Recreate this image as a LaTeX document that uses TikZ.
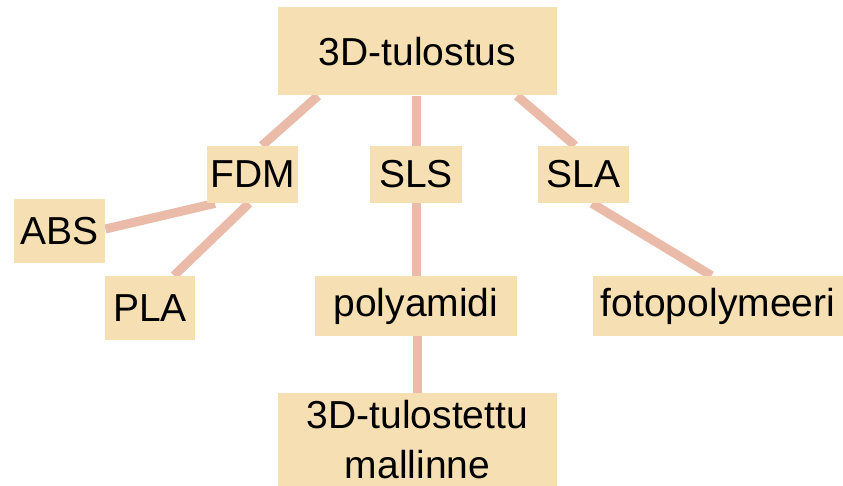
\documentclass[tikz,border=0pt]{standalone}
\usepackage{fontspec}
\setmainfont{Liberation Sans}
\usetikzlibrary{backgrounds}
\definecolor{boxfill}{HTML}{F6DFB2}
\definecolor{linkcol}{HTML}{EABBA8}
\tikzset{
  box/.style={fill=boxfill, inner sep=0pt, align=center,
    font=\fontsize{19.5}{25}\selectfont},
  link/.style={draw=linkcol, line width=4.5pt}
}
\begin{document}
\begin{tikzpicture}[x=0.5pt, y=-0.5pt]
        \useasboundingbox (0,0) rectangle (843,486);
        \node[box, minimum width=139.5pt, minimum height=44pt]   (print)  at (417.5, 51.5) {3D-tulostus};
        \node[box, minimum width=45.5pt, minimum height=28.5pt]  (fdm)    at (252.5,174.5) {FDM};
        \node[box, minimum width=46pt, minimum height=28.5pt]    (sls)    at (416,  174.5) {SLS};
        \node[box, minimum width=45.5pt, minimum height=28.5pt]  (sla)    at (583.5,174.5) {SLA};
        \node[box, minimum width=45.5pt, minimum height=32pt]    (abs)    at (59.5, 231)   {ABS};
        \node[box, minimum width=45pt, minimum height=32pt]      (pla)    at (150,  308)   {PLA};
        \node[box, minimum width=101pt, minimum height=30pt]     (pa)     at (416,  306)   {polyamidi};
        \node[box, minimum width=125pt, minimum height=30pt]     (photo)  at (718,  306)   {fotopolymeeri};
        \node[box, minimum width=139.5pt, minimum height=46.5pt] (model)  at (417.5,439.5) {3D-tulostettu\\mallinne};
        \begin{pgfonlayer}{background}
        \draw[link] ([xshift=-49.75pt]print.south) -- ([xshift=4.75pt]fdm.north);
        \draw[link] (sls.north |- print.south)     -- (sls.north);
        \draw[link] ([xshift=49.75pt]print.south)  -- ([xshift=-4.25pt]sla.north);
        \draw[link] ([yshift=1pt]abs.east)         -- ([xshift=-18.75pt]fdm.south);
        \draw[link] ([xshift=-1.75pt]fdm.south)    -- ([xshift=12pt]pla.north);
        \draw[link] (sls.south)                    -- (pa.north);
        \draw[link] ([xshift=4.25pt]sla.south)     -- ([xshift=-3.25pt]photo.north);
        \draw[link] (pa.south -| model.north)      -- (model.north);
        \end{pgfonlayer}
      \end{tikzpicture}
\end{document}
